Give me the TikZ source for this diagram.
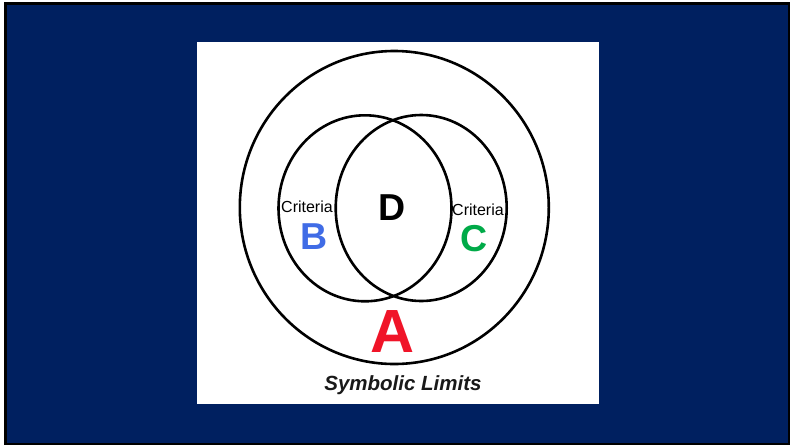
\documentclass[tikz,border=0pt]{standalone}
\usepackage{fontspec}
\setmainfont{Liberation Sans}
\definecolor{navy}{RGB}{0,32,96}
\definecolor{bblue}{RGB}{64,108,230}
\definecolor{cgreen}{RGB}{0,170,72}
\definecolor{ared}{RGB}{240,20,40}
\begin{document}
\begin{tikzpicture}[x=1pt,y=-1pt,
  ring/.style={draw=black,line width=2.6pt},
  small/.style={font=\fontsize{16}{16}\selectfont},
  big/.style={font=\fontsize{37.5}{37.5}\selectfont\bfseries},
  huge/.style={font=\fontsize{61}{61}\selectfont\bfseries},
  caption/.style={font=\fontsize{20.5}{20.5}\selectfont\bfseries\itshape, text=black!90}]
\useasboundingbox (0,0) rectangle (790,445);
\fill[white] (0,0) rectangle (790,445);
\fill[black] (4,2) rectangle (790,445);
\fill[navy] (7,5) rectangle (788,442.5);
\fill[white] (196.7,42.3) rectangle (599.3,404);
\draw[ring] (394.3,207.5) ellipse [x radius=154.5, y radius=156.5];
\draw[ring] (365,208.3) ellipse [x radius=86.5, y radius=93];
\draw[ring] (421.2,208) ellipse [x radius=85.5, y radius=93];
\node[small] (cb) at (307,207) {Criteria};
\node[small] (cc) at (478,209.5) {Criteria};
\node[big] (d) at (392.5,207.8) {D};
\node[big,text=bblue] (b) at (314,236.8) {B};
\node[big,text=cgreen] (c) at (474,238.2) {C};
\node[huge,text=ared] (a) at (393,331.3) {A};
\node[caption] (s) at (403,385) {Symbolic Limits};
\end{tikzpicture}
\end{document}
